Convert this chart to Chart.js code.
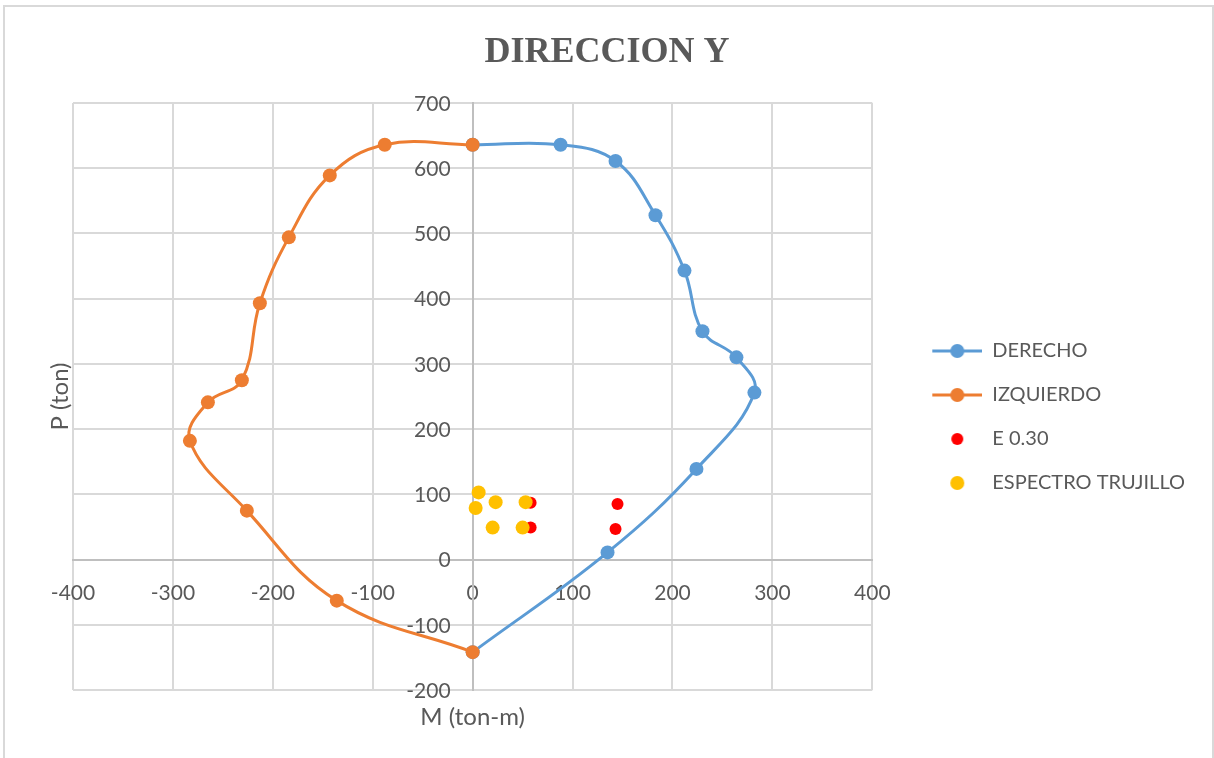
<!DOCTYPE html>
<html>
<head>
<meta charset="utf-8">
<script src="https://cdn.jsdelivr.net/npm/chart.js@4/dist/chart.umd.min.js"></script>
<style>
  html, body { margin: 0; padding: 0; background: #fff; overflow: hidden; }
  #frame { position: absolute; left: 3px; top: 5px; width: 1207px; height: 800px; border: 2px solid #d9d9d9; pointer-events: none; }
  canvas { position: absolute; left: 0; top: 0; }
</style>
</head>
<body>
<canvas id="direccionY" width="1214" height="758"></canvas>
<div id="frame"></div>
<script>
// interaction diagram, M (ton-m) vs P (ton)
var derechoM = [0, 88, 143, 183, 212, 230, 264, 282, 224, 135, 0];
var derechoP = [636, 636, 611, 528, 443, 350, 310, 256, 139, 11, -142];
var izquierdoM = [0, -88, -143, -184, -213, -231, -265, -283, -226, -136, 0];
var izquierdoP = [636, 636, 589, 494, 393, 275, 241, 182, 75, -63, -142];
var e030M = [58, 58, 145, 143];
var e030P = [87, 49, 85, 47];
var espectroM = [6, 3, 23, 20, 53, 50];
var espectroP = [103, 79, 88, 49, 88, 49];

var labelColor = '#595959';
var gridColor = '#d9d9d9';
var tickFont = {family: 'Lato', size: 21};

function pairs(xs, ys) {
  return xs.map(function(x, i) { return {x: x, y: ys[i]}; });
}

// legend markers: line with a dot, or a dot alone
function legendIcon(color, withLine, radius) {
  var c = document.createElement('canvas');
  c.width = 86;
  c.height = 20;
  var g = c.getContext('2d');
  if (withLine) {
    g.strokeStyle = color;
    g.lineWidth = 3;
    g.beginPath();
    g.moveTo(36, 10);
    g.lineTo(86, 10);
    g.stroke();
  }
  g.fillStyle = color;
  g.beginPath();
  g.arc(61, 10, radius, 0, Math.PI * 2);
  g.fill();
  return c;
}

// chart title, axis titles, and the y tick labels left of the centred axis
var titles = {
  id: 'titles',
  afterDraw: function(chart) {
    var a = chart.chartArea;
    var ctx = chart.ctx;
    var xs = chart.scales.x;
    var ys = chart.scales.y;
    var x0 = xs.getPixelForValue(0);
    ctx.save();
    ctx.fillStyle = labelColor;

    ctx.font = '21px Lato';
    ctx.textAlign = 'right';
    ctx.textBaseline = 'middle';
    ys.ticks.forEach(function(t) {
      ctx.fillText(String(t.value), x0 - 22, ys.getPixelForValue(t.value) + 1);
    });

    ctx.textAlign = 'center';
    ctx.font = 'bold 36px "Liberation Serif"';
    ctx.textBaseline = 'alphabetic';
    ctx.fillText('DIRECCION Y', chart.width / 2, 62);

    ctx.font = '24px Lato';
    ctx.textBaseline = 'middle';
    ctx.fillText('M (ton-m)', (a.left + a.right) / 2, a.bottom + 27);
    ctx.translate(a.left - 13, (a.top + a.bottom) / 2);
    ctx.rotate(-Math.PI / 2);
    ctx.fillText('P (ton)', 0, 0);
    ctx.restore();
  }
};

function makeChart() {
  new Chart('direccionY', {
    type: 'scatter',
    plugins: [titles],
    data: {
      datasets: [
        {
          label: 'DERECHO',
          data: pairs(derechoM, derechoP),
          showLine: true,
          tension: 0.4,
          borderColor: '#5B9BD5',
          backgroundColor: '#5B9BD5',
          borderWidth: 3,
          pointRadius: 7,
          pointHoverRadius: 7,
          pointBorderWidth: 0,
          order: 3
        },
        {
          label: 'IZQUIERDO',
          data: pairs(izquierdoM, izquierdoP),
          showLine: true,
          tension: 0.4,
          borderColor: '#ED7D31',
          backgroundColor: '#ED7D31',
          borderWidth: 3,
          pointRadius: 7,
          pointHoverRadius: 7,
          pointBorderWidth: 0,
          order: 2
        },
        {
          label: 'E 0.30',
          data: pairs(e030M, e030P),
          backgroundColor: '#FF0000',
          borderColor: '#FF0000',
          pointRadius: 6,
          pointHoverRadius: 6,
          pointBorderWidth: 0,
          order: 1
        },
        {
          label: 'ESPECTRO TRUJILLO',
          data: pairs(espectroM, espectroP),
          backgroundColor: '#FFC000',
          borderColor: '#FFC000',
          pointRadius: 7,
          pointHoverRadius: 7,
          pointBorderWidth: 0,
          order: 0
        }
      ]
    },
    options: {
      responsive: false,
      animation: false,
      layout: {
        padding: {left: 73, right: 19, top: 103, bottom: 68}
      },
      plugins: {
        tooltip: {enabled: false},
        legend: {
          position: 'right',
          fullSize: false,
          maxWidth: 400,
          title: {display: true, text: '', font: {size: 20}, padding: {top: 0, bottom: 17}},
          labels: {
            usePointStyle: true,
            pointStyleWidth: 86,
            padding: 24,
            color: labelColor,
            font: {family: 'Lato', size: 20},
            generateLabels: function(chart) {
              var icons = [
                legendIcon('#5B9BD5', true, 7),
                legendIcon('#ED7D31', true, 7),
                legendIcon('#FF0000', false, 6),
                legendIcon('#FFC000', false, 7)
              ];
              return chart.data.datasets.map(function(ds, i) {
                return {
                  text: ds.label,
                  fontColor: labelColor,
                  pointStyle: icons[i],
                  datasetIndex: i,
                  hidden: false,
                  lineWidth: 0
                };
              });
            }
          }
        }
      },
      scales: {
        x: {
          type: 'linear',
          position: {y: 0},
          min: -400,
          max: 400,
          ticks: {stepSize: 100, color: labelColor, font: tickFont, padding: 21},
          grid: {color: gridColor, lineWidth: 2, drawTicks: false},
          border: {color: '#bfbfbf', width: 2}
        },
        y: {
          type: 'linear',
          position: {x: 0},
          min: -200,
          max: 700,
          ticks: {stepSize: 100, display: false},
          grid: {color: gridColor, lineWidth: 2, drawTicks: false},
          border: {color: '#bfbfbf', width: 2}
        }
      }
    }
  });
}

Promise.all([
  document.fonts.load('20px Lato'),
  document.fonts.load('bold 36px "Liberation Serif"')
]).then(makeChart, makeChart);
</script>
</body>
</html>
